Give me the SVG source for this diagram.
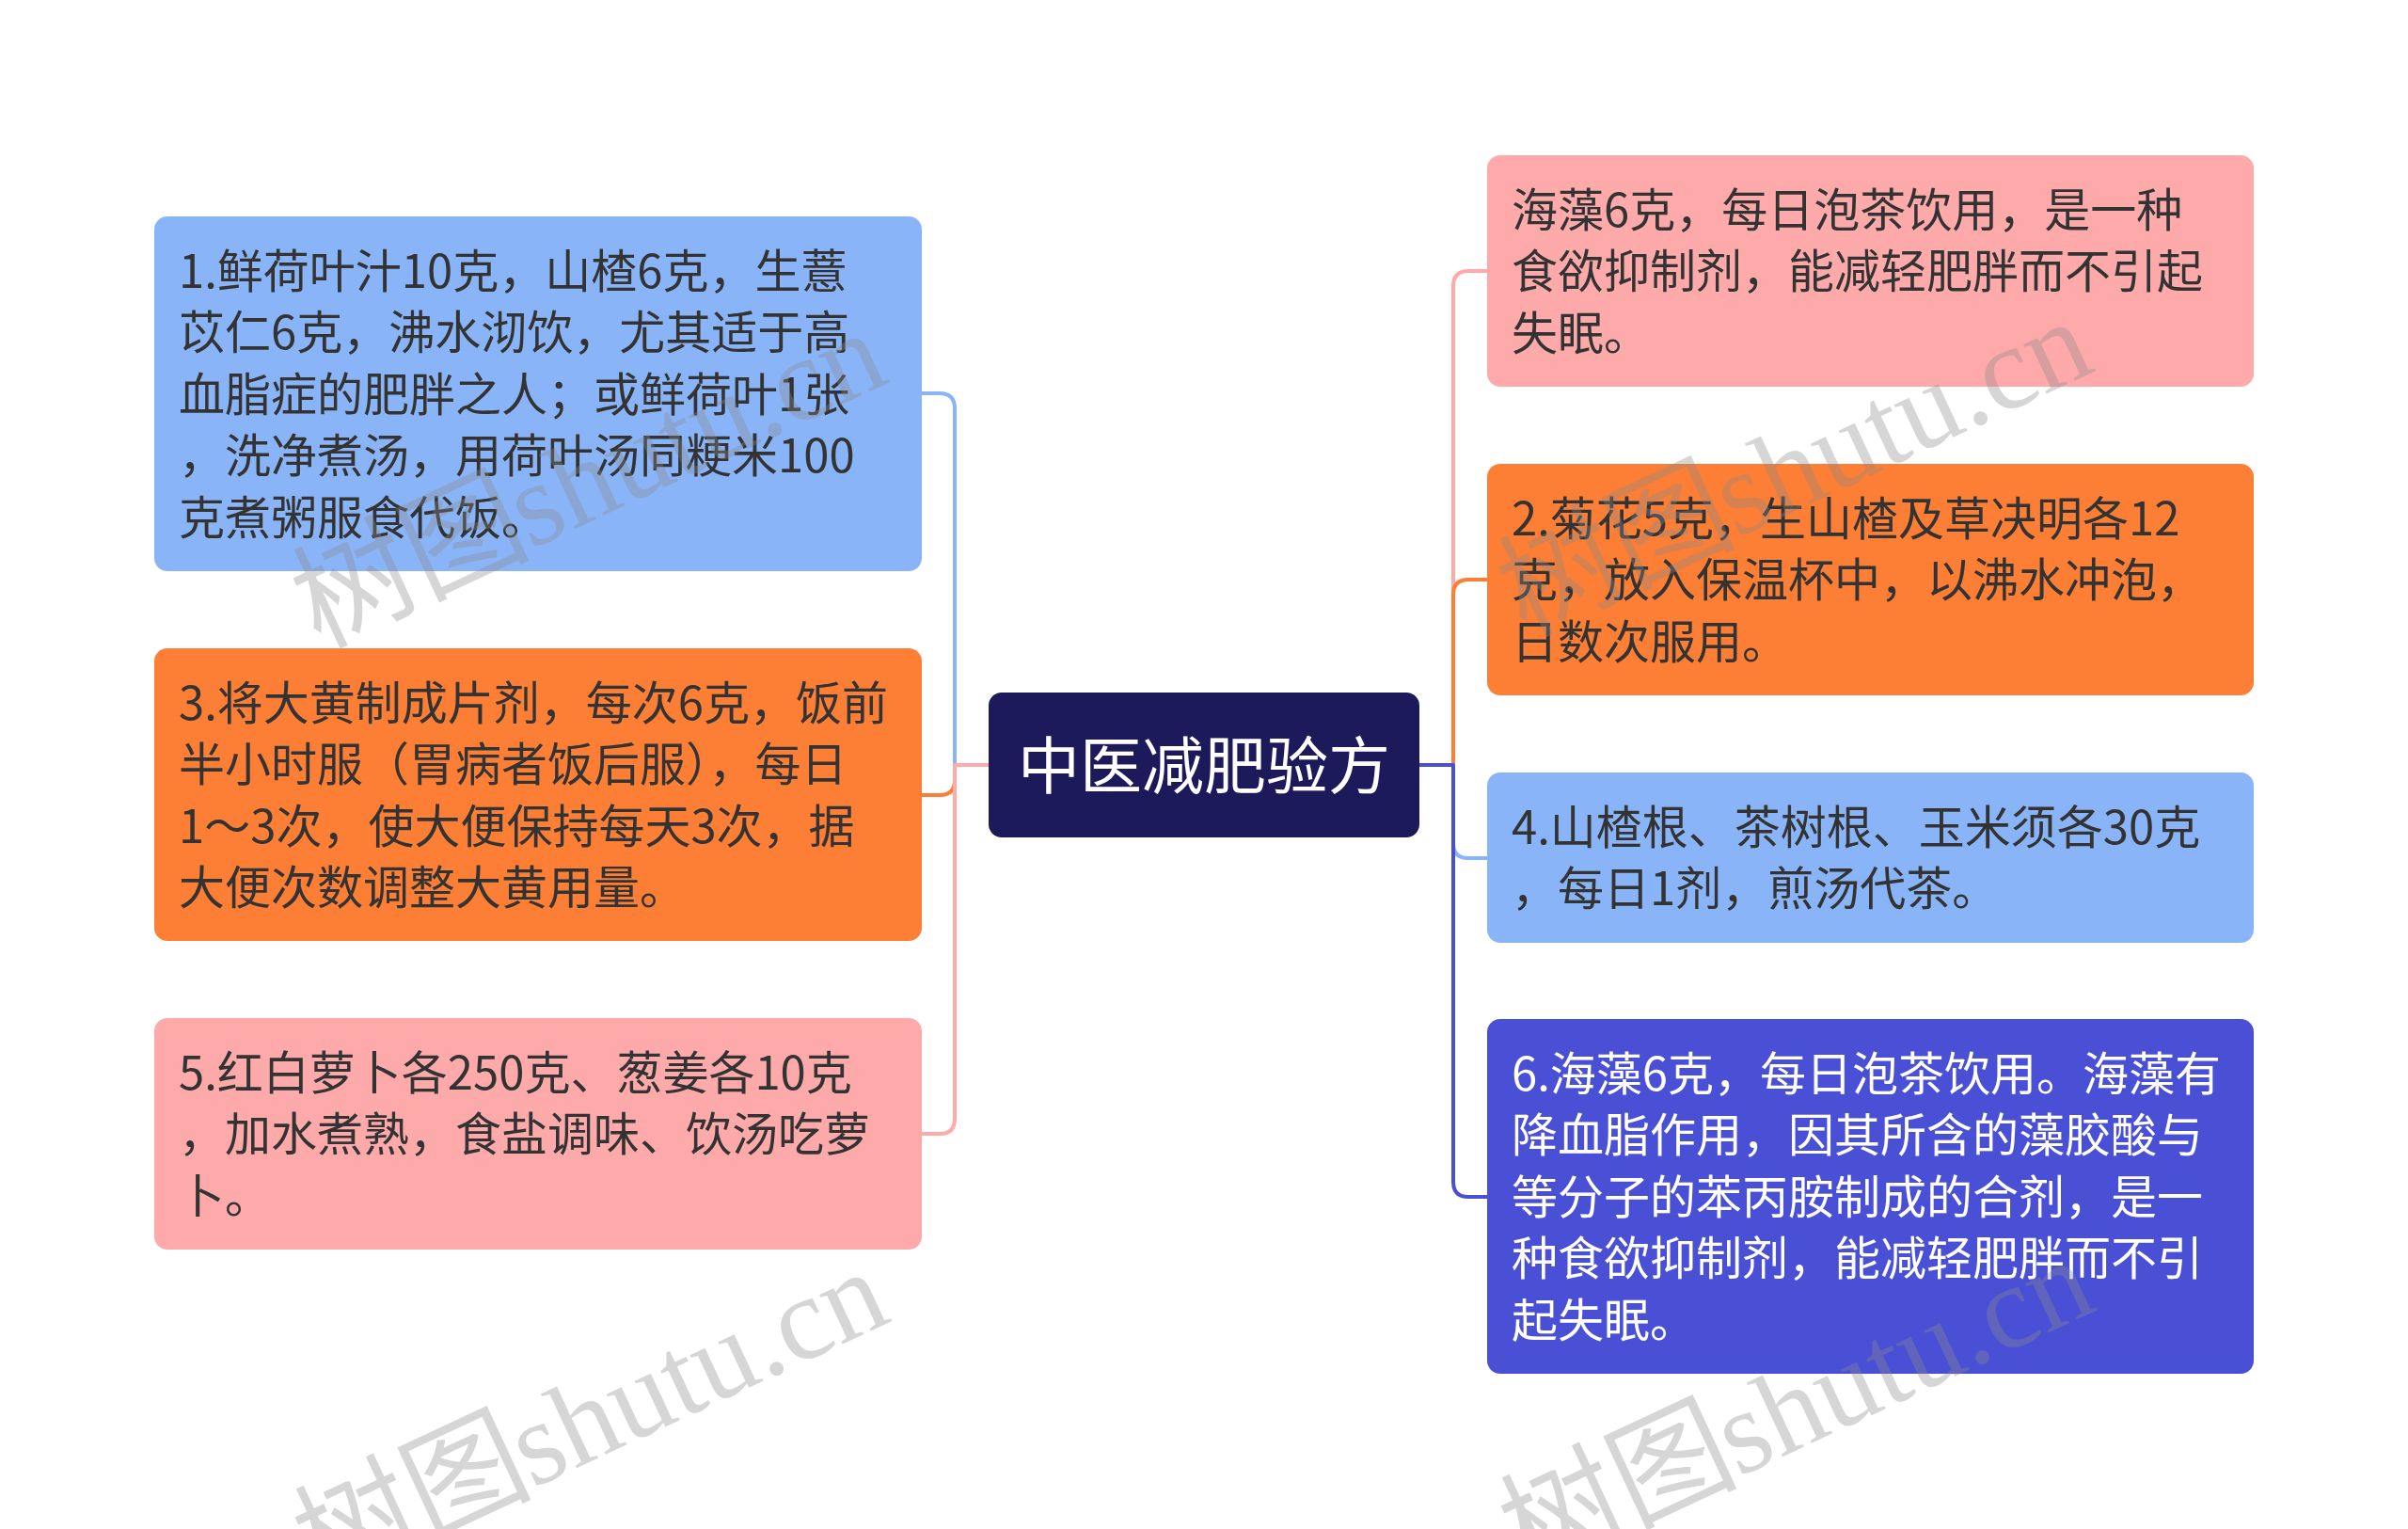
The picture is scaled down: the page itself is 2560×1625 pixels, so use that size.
<svg xmlns="http://www.w3.org/2000/svg" width="2560" height="1625" viewBox="0 0 2560 1625">
<style>
.t{font-family:"Noto Sans CJK SC","Noto Sans",sans-serif;font-size:49px;fill:#333333}
.w{fill:#ffffff}
.c{fill:none;stroke-width:4;stroke-linejoin:round}
.wm{font-family:"Liberation Serif","Noto Sans CJK SC",serif;font-size:126px;fill:#8a8a8a;fill-opacity:0.35}
</style>
<rect width="2560" height="1625" fill="#ffffff"/>
<g id="connectors">
<path class="c" stroke="#8AB4F8" d="M1051,813 H1015 V434 Q1015,418 999,418 H980"/>
<path class="c" stroke="#FD7E35" d="M1051,813 H1015 V829 Q1015,845 999,845 H980"/>
<path class="c" stroke="#FFAAAA" d="M1051,813 H1015 V1189 Q1015,1205 999,1205 H980"/>
<path class="c" stroke="#FFAAAA" d="M1509,813 H1545 V304 Q1545,288 1561,288 H1581"/>
<path class="c" stroke="#FD7E35" d="M1509,813 H1545 V632 Q1545,616 1561,616 H1581"/>
<path class="c" stroke="#8AB4F8" d="M1509,813 H1545 V896 Q1545,912 1561,912 H1581"/>
<path class="c" stroke="#4A50D6" d="M1509,813 H1545 V1256 Q1545,1272 1561,1272 H1581"/>
</g>
<g id="center">
<rect x="1051" y="736" width="458" height="154" rx="14" fill="#1C1A5A"/>
<text x="1280" y="838" text-anchor="middle" style="font-family:'Noto Sans CJK SC',sans-serif;font-size:66px;fill:#ffffff">中医减肥验方</text>
</g>
<g id="node1">
<rect x="164" y="230" width="816" height="377" rx="14" fill="#8AB4F8"/>
<text class="t"><tspan x="190" y="306">1.鲜荷叶汁10克，山楂6克，生薏</tspan><tspan x="190" y="371">苡仁6克，沸水沏饮，尤其适于高</tspan><tspan x="190" y="437">血脂症的肥胖之人；或鲜荷叶1张</tspan><tspan x="190" y="502">，洗净煮汤，用荷叶汤同粳米100</tspan><tspan x="190" y="568">克煮粥服食代饭。</tspan></text>
</g>
<g id="node3">
<rect x="164" y="689" width="816" height="311" rx="14" fill="#FD7E35"/>
<text class="t"><tspan x="190" y="765">3.将大黄制成片剂，每次6克，饭前</tspan><tspan x="190" y="830">半小时服（胃病者饭后服），每日</tspan><tspan x="190" y="896">1～3次，使大便保持每天3次，据</tspan><tspan x="190" y="961">大便次数调整大黄用量。</tspan></text>
</g>
<g id="node5">
<rect x="164" y="1082" width="816" height="246" rx="14" fill="#FFAAAA"/>
<text class="t"><tspan x="190" y="1158">5.红白萝卜各250克、葱姜各10克</tspan><tspan x="190" y="1223">，加水煮熟，食盐调味、饮汤吃萝</tspan><tspan x="190" y="1289">卜。</tspan></text>
</g>
<g id="nodeR1">
<rect x="1581" y="165" width="815" height="246" rx="14" fill="#FFAAAA"/>
<text class="t"><tspan x="1607" y="241">海藻6克，每日泡茶饮用，是一种</tspan><tspan x="1607" y="306">食欲抑制剂，能减轻肥胖而不引起</tspan><tspan x="1607" y="372">失眠。</tspan></text>
</g>
<g id="node2">
<rect x="1581" y="493" width="815" height="246" rx="14" fill="#FD7E35"/>
<text class="t"><tspan x="1607" y="569">2.菊花5克，生山楂及草决明各12</tspan><tspan x="1607" y="634">克，放入保温杯中，以沸水冲泡，</tspan><tspan x="1607" y="700">日数次服用。</tspan></text>
</g>
<g id="node4">
<rect x="1581" y="821" width="815" height="181" rx="14" fill="#8AB4F8"/>
<text class="t"><tspan x="1607" y="897">4.山楂根、茶树根、玉米须各30克</tspan><tspan x="1607" y="962">，每日1剂，煎汤代茶。</tspan></text>
</g>
<g id="node6">
<rect x="1581" y="1083" width="815" height="377" rx="14" fill="#4A50D6"/>
<text class="t w"><tspan x="1607" y="1159">6.海藻6克，每日泡茶饮用。海藻有</tspan><tspan x="1607" y="1224">降血脂作用，因其所含的藻胶酸与</tspan><tspan x="1607" y="1290">等分子的苯丙胺制成的合剂，是一</tspan><tspan x="1607" y="1355">种食欲抑制剂，能减轻肥胖而不引</tspan><tspan x="1607" y="1421">起失眠。</tspan></text>
</g>
<g id="watermarks">
<text class="wm" transform="translate(339,689) rotate(-25)">树图<tspan dx="-35"> shutu.cn</tspan></text>
<text class="wm" transform="translate(1621,677) rotate(-25)">树图<tspan dx="-35"> shutu.cn</tspan></text>
<text class="wm" transform="translate(341,1687) rotate(-25)">树图<tspan dx="-35"> shutu.cn</tspan></text>
<text class="wm" transform="translate(1623,1675) rotate(-25)">树图<tspan dx="-35"> shutu.cn</tspan></text>
</g>
</svg>
